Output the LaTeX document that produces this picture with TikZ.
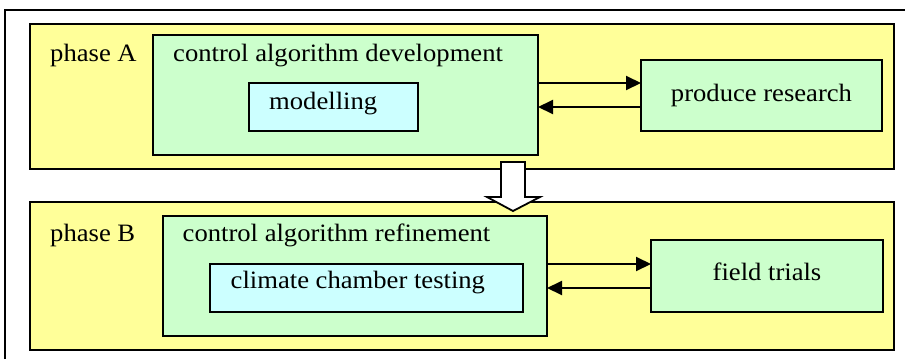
\documentclass[tikz,border=0pt]{standalone}
\usepackage{fontspec}
\setmainfont{Liberation Serif}[FakeStretch=1.065]
\usetikzlibrary{arrows.meta}
\definecolor{phaseyellow}{HTML}{FFFF99}
\definecolor{boxgreen}{HTML}{CCFFCC}
\definecolor{boxcyan}{HTML}{CCFFFF}
\begin{document}
\begin{tikzpicture}[x=1pt,y=-1pt,
  box/.style={draw=black, line width=2pt, anchor=north west, inner sep=0pt, outer sep=0pt},
  phasebox/.style={box, fill=phaseyellow},
  algbox/.style={box, fill=boxgreen},
  subbox/.style={box, fill=boxcyan},
  lbl/.style={font=\fontsize{25}{30}\selectfont, inner sep=0pt, anchor=base west},
  arr/.style={line width=2pt, -{Triangle[length=15pt,width=14pt]}},
  hollow/.style={draw=black, line width=1.8pt, fill=white, line join=miter}]
\useasboundingbox (0,0) rectangle (905,359);
% outer frame
\coordinate (fbl) at (5,359);
\coordinate (ftl) at (5,10);
\coordinate (ftr) at (905,10);
\draw[line width=1.8pt] (fbl) -- (ftl) -- (ftr);
% phase A
\node[phasebox, minimum width=864pt, minimum height=145pt] (phA) at (30,24) {};
\node[algbox, minimum width=385pt, minimum height=120pt] (devA) at (153,35) {};
\node[subbox, minimum width=169pt, minimum height=48pt] (model) at (249,83) {};
\node[algbox, minimum width=241pt, minimum height=71pt] (prod) at (641,60) {};
\node[lbl] (tA) at (50,61) {phase A};
\node[lbl] (tdev) at (173,61) {control algorithm development};
\node[lbl] (tmod) at (269,109) {modelling};
\node[lbl, anchor=base] (tprod) at (761.5,101) {produce research};
\draw[arr] ([yshift=12pt]devA.east) -- ([yshift=12pt]devA.east -| prod.west);
\draw[arr] ([yshift=-12pt]devA.east -| prod.west) -- ([yshift=-12pt]devA.east);
% phase B
\node[phasebox, minimum width=864pt, minimum height=148pt] (phB) at (30,202) {};
\node[algbox, minimum width=384pt, minimum height=120pt] (refB) at (163,216) {};
\node[subbox, minimum width=313pt, minimum height=48pt] (climate) at (210,264) {};
\node[algbox, minimum width=232pt, minimum height=72pt] (field) at (651,240) {};
\node[lbl] (tB) at (50,241) {phase B};
\node[lbl] (tref) at (182.5,241) {control algorithm refinement};
\node[lbl] (tclim) at (230.5,288) {climate chamber testing};
\node[lbl, anchor=base] (tfield) at (767,280) {field trials};
\draw[arr] ([yshift=12pt]refB.east) -- ([yshift=12pt]refB.east -| field.west);
\draw[arr] ([yshift=-12pt]refB.east -| field.west) -- ([yshift=-12pt]refB.east);
% hollow block arrow from phase A to phase B
\draw[hollow] (501,162) -- (525,162) -- (525,197) -- (540,197) -- (513,211) -- (487,197) -- (501,197) -- cycle;
\end{tikzpicture}
\end{document}
